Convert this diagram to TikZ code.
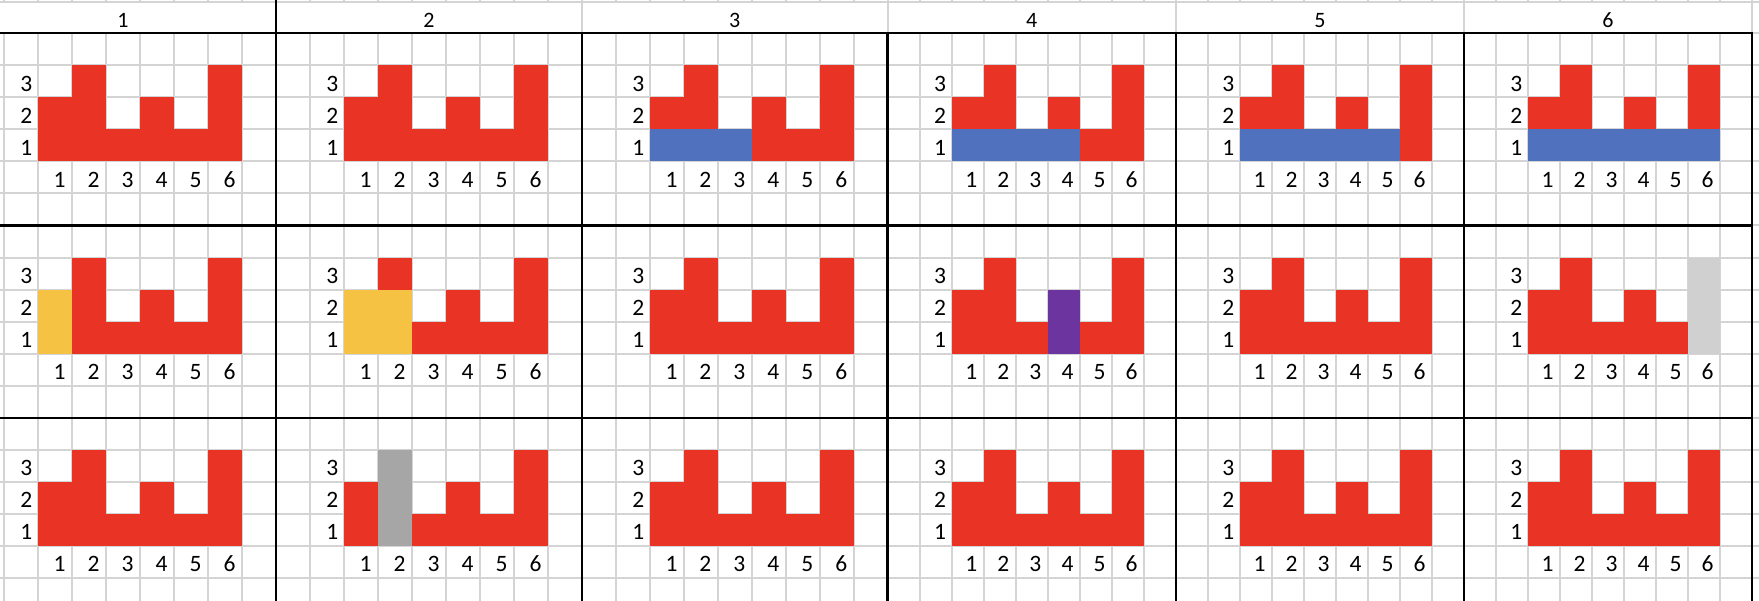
\documentclass[tikz,border=0pt]{standalone}
\usepackage{fontspec}
\setmainfont{Carlito}
\definecolor{cred}{RGB}{233,51,36}
\definecolor{cblue}{RGB}{80,113,190}
\definecolor{cyellow}{RGB}{245,194,67}
\definecolor{cpurple}{RGB}{108,52,158}
\definecolor{clight}{RGB}{208,208,208}
\definecolor{cdark}{RGB}{166,166,166}
\definecolor{cgrid}{RGB}{212,212,212}
\def\Elist{-30,276,582,887.5,1176,1464,1752}
\def\Hlist{2,3,1,2,1,3}
\def\rowh{32.03}
\tikzset{
  gridline/.style={draw=cgrid, line width=2pt},
  frameline/.style={draw=black, line width=2.2pt, line cap=rect},
  lab/.style={inner sep=0pt, anchor=base east, font=\fontsize{23.5}{23.5}\selectfont},
  headlab/.style={inner sep=0pt, anchor=base, font=\fontsize{22}{22}\selectfont},
}
\newcommand\ovlfill[7]{%
  \pgfmathsetmacro\pxl{{\Elist}[#2]}%
  \pgfmathsetmacro\pxr{{\Elist}[#2+1]}%
  \pgfmathsetmacro\pcw{(\pxr-\pxl)/9}%
  \pgfmathsetmacro\pT{33.3+#1*192.2}%
  \fill[#7] ({\pxl+(#3+1)*\pcw},{\pT+(5-#5)*\rowh}) rectangle ({\pxl+(#4+2)*\pcw},{\pT+(4-#6)*\rowh});%
}
\begin{document}
\begin{tikzpicture}[x=1pt,y=-1pt]
\useasboundingbox (0,0) rectangle (1759,601);
\clip (0,0) rectangle (1759,601);
\fill[white] (0,0) rectangle (1759,601);
% vertical grid lines
\foreach \p in {0,...,5}{
  \pgfmathsetmacro\pxl{{\Elist}[\p]}
  \pgfmathsetmacro\pxr{{\Elist}[\p+1]}
  \pgfmathsetmacro\pcw{(\pxr-\pxl)/9}
  \foreach \j in {0,...,9}{
    \draw[gridline] ({\pxl+\j*\pcw},0) -- ({\pxl+\j*\pcw},601);
  }
}
% horizontal grid lines
\draw[gridline] (0,1.7) -- (1759,1.7);
\foreach \r in {0,1,2}{
  \foreach \k in {0,...,6}{
    \draw[gridline] (0,{33.3+\r*192.2+\k*\rowh}) -- (1759,{33.3+\r*192.2+\k*\rowh});
  }
}
% header row (merged cells)
\fill[white] (0,2.7) rectangle (1759,32.3);
\foreach \xx in {582,887.5,1176,1464,1752}{
  \draw[gridline] (\xx,1.7) -- (\xx,33.3);
}
% red base bars
\foreach \r in {0,1,2}{
  \foreach \p in {0,...,5}{
    \pgfmathsetmacro\pxl{{\Elist}[\p]}
    \pgfmathsetmacro\pxr{{\Elist}[\p+1]}
    \pgfmathsetmacro\pcw{(\pxr-\pxl)/9}
    \pgfmathsetmacro\pT{33.3+\r*192.2}
    \foreach \c in {1,...,6}{
      \pgfmathsetmacro\hh{{\Hlist}[\c-1]}
      \fill[cred] ({\pxl+(\c+1)*\pcw},{\pT+4*\rowh}) rectangle ({\pxl+(\c+2)*\pcw},{\pT+(4-\hh)*\rowh});
    }
  }
}
% overlays
\ovlfill{0}{2}{1}{3}{1}{1}{cblue}
\ovlfill{0}{3}{1}{4}{1}{1}{cblue}
\ovlfill{0}{4}{1}{5}{1}{1}{cblue}
\ovlfill{0}{5}{1}{6}{1}{1}{cblue}
\ovlfill{1}{0}{1}{1}{1}{2}{cyellow}
\ovlfill{1}{1}{1}{2}{1}{2}{cyellow}
\ovlfill{1}{3}{4}{4}{1}{2}{cpurple}
\ovlfill{1}{5}{6}{6}{1}{3}{clight}
\ovlfill{2}{1}{2}{2}{1}{3}{cdark}
% black frame lines
\foreach \yy in {33.3,225.5,417.7}{
  \draw[frameline] (0,\yy) -- (1752,\yy);
}
\draw[frameline] (276,0) -- (276,601);
\foreach \xx in {582,887.5,1176,1464,1752}{
  \draw[frameline] (\xx,33.3) -- (\xx,601);
}
% header labels
\node[headlab] (h1) at (123,27.3) {1};
\node[headlab] (h2) at (429,27.3) {2};
\node[headlab] (h3) at (734.75,27.3) {3};
\node[headlab] (h4) at (1031.75,27.3) {4};
\node[headlab] (h5) at (1320,27.3) {5};
\node[headlab] (h6) at (1608,27.3) {6};
% axis labels
\foreach \r in {0,1,2}{
  \foreach \p in {0,...,5}{
    \pgfmathsetmacro\pxl{{\Elist}[\p]}
    \pgfmathsetmacro\pxr{{\Elist}[\p+1]}
    \pgfmathsetmacro\pcw{(\pxr-\pxl)/9}
    \pgfmathsetmacro\pT{33.3+\r*192.2}
    \foreach \l in {1,2,3}{
      \node[lab] (y-\r-\p-\l) at ({\pxl+2*\pcw-5.5},{\pT+(5-\l)*\rowh-6.3}) {\l};
    }
    \foreach \c in {1,...,6}{
      \node[lab] (x-\r-\p-\c) at ({\pxl+(\c+2)*\pcw-6.2},{\pT+5*\rowh-6.3}) {\c};
    }
  }
}
\end{tikzpicture}
\end{document}
